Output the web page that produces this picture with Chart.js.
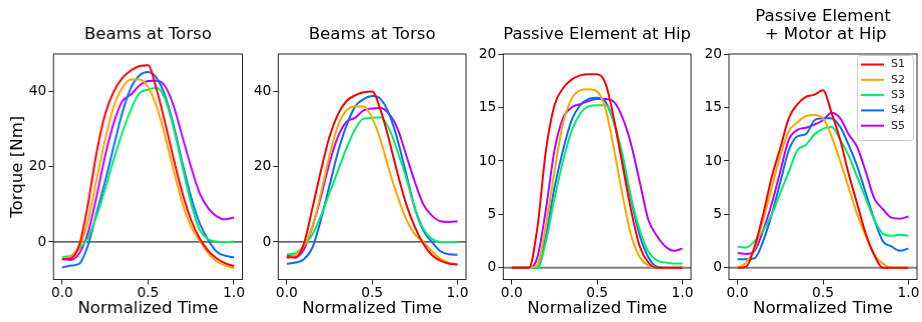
<!DOCTYPE html>
<html>
<head>
<meta charset="utf-8">
<script src="https://cdn.jsdelivr.net/npm/chart.js@4.4.1/dist/chart.umd.min.js"></script>
<style>
  html, body { margin: 0; padding: 0; background: #fff; }
  #wrap { position: relative; width: 922px; height: 322px; overflow: hidden; }
  .panel { position: absolute; top: 0; }
</style>
</head>
<body>
<div id="wrap">
  <div class="panel" style="left:0px;width:247.5px;height:322px"><canvas id="c1"></canvas></div>
  <div class="panel" style="left:228px;width:244px;height:322px"><canvas id="c2"></canvas></div>
  <div class="panel" style="left:453px;width:244px;height:322px"><canvas id="c3"></canvas></div>
  <div class="panel" style="left:679px;width:244px;height:322px"><canvas id="c4"></canvas></div>
</div>
<script>
// normalized time (x values shared by all curves)
const time = [0, 0.05, 0.1, 0.15, 0.2, 0.25, 0.3, 0.35, 0.4, 0.45, 0.5,
              0.55, 0.6, 0.65, 0.7, 0.75, 0.8, 0.85, 0.9, 0.95, 1.0];

const subjects = ["S1", "S2", "S3", "S4", "S5"];
const colors = ["#ff0000", "#ffa500", "#00ee66", "#0a6cff", "#c000ff"];

const titles = [["Beams at Torso"], ["Beams at Torso"], ["Passive Element at Hip"], ["Passive Element", " + Motor at Hip"]];
const xTicks = [0, 0.5, 1.0];
const yTicksTorso = [0, 20, 40];
const yTicksHip = [0, 5, 10, 15, 20];

// panel 1 - beams at torso
const p1S1 = [-4.6, -4.4, -0.8, 9.9, 23.6, 33.9, 40, 43.6, 45.6, 46.8, 47, 40.5, 31.6, 21.9, 13, 5.9, 1, -2.3, -4.4, -5.7, -6.4];
const p1S2 = [-4.4, -3.9, -1.2, 5.4, 16.5, 27.2, 36, 41, 43.2, 43.2, 41.2, 36, 28, 18.8, 10.3, 4.1, 0.4, -3, -5.2, -6.3, -7];
const p1S3 = [-4, -3.7, -1.7, 1, 6.8, 13.9, 21.9, 29, 35.2, 39.6, 40.5, 41, 37.9, 29.9, 20, 10.3, 3.2, 0.7, 0.1, -0.1, 0.1];
const p1S4 = [-6.8, -6.3, -5.8, -1, 7.6, 16, 25.4, 34.3, 41, 44.3, 45.2, 43.6, 38.8, 30.8, 21, 12, 5, 0.5, -2.6, -3.7, -4.1];
const p1S5 = [-4.5, -4.8, -3, 2.3, 12, 22.8, 31.6, 37.4, 39.2, 41.6, 42.8, 42.9, 41.4, 36, 28, 20, 13, 9, 6.8, 6, 6.5];

// panel 2 - beams at torso
const p2S1 = [-4, -4.2, -0.5, 9, 19, 28, 34, 37.5, 39, 39.8, 40, 35, 27, 18, 10, 4, -0.5, -3.5, -5, -5.8, -6];
const p2S2 = [-4.3, -3.5, -1, 4, 13, 23, 31, 35, 36, 36, 33, 27, 19, 12, 6, 2, 0, -2.5, -4.5, -5.5, -6];
const p2S3 = [-3.3, -3, -1, 2, 7, 13, 19, 25, 30, 32.8, 33, 33.2, 30, 24, 17, 9, 3.5, 0.8, 0, 0, 0];
const p2S4 = [-5.8, -5.5, -4.6, -1.5, 6, 15, 24, 31, 36, 38, 38.8, 38, 34, 27, 18, 9, 3, 0, -2.5, -3.3, -3.4];
const p2S5 = [-3.6, -4, -2, 4, 12, 21, 28, 32, 33, 35, 35.5, 35.6, 34, 30, 23, 16, 10, 7, 5.5, 5.3, 5.5];

// panel 3 - passive element at hip
const p3S1 = [0, 0, 0, 3.8, 11, 15.2, 16.8, 17.6, 18, 18.1, 18.1, 17.2, 13.8, 9.5, 5.3, 2, 0.5, 0, 0, 0, 0];
const p3S2 = [0, 0, 0, 0.3, 4, 9, 13.5, 15.8, 16.6, 16.7, 16.5, 14.8, 11, 6.7, 3, 1, 0.2, 0, 0, 0, 0];
const p3S3 = [0, 0, 0, 0, 2.5, 6.5, 10, 12.8, 14.4, 15.1, 15.2, 15.2, 13.5, 10.5, 6.5, 3.5, 1.5, 0.7, 0.5, 0.4, 0.4];
const p3S4 = [0, 0, 0, 0, 3, 7.5, 11, 13.8, 15.2, 15.8, 15.9, 15.5, 13.5, 10, 6.3, 3, 1, 0.1, 0, 0, 0];
const p3S5 = [0, 0, 0, 1, 5.5, 11, 14, 15, 15.3, 15.6, 15.8, 15.8, 15.5, 14, 11.5, 8, 4.5, 3, 2, 1.6, 1.8];

// panel 4 - passive element + motor at hip
const p4S1 = [0, 0.1, 2, 5, 8.5, 11.2, 14, 15.3, 16, 16.2, 16.6, 14.5, 12, 8.8, 6, 3.2, 1.2, 0, 0, 0, 0];
const p4S2 = [0, 0.5, 1.8, 4.5, 7.5, 10.5, 12.8, 13.6, 14.2, 14.3, 14, 12.3, 10, 7.5, 5, 3, 1.2, 0.4, 0, 0, 0];
const p4S3 = [2, 1.9, 2.5, 3.5, 5, 7, 9, 11, 11.5, 12.5, 13, 13.2, 12, 10.5, 8.5, 6.5, 4.5, 3.2, 3, 3.1, 3];
const p4S4 = [0.8, 0.8, 0.9, 2.5, 5, 8, 11, 12.3, 12.5, 13.8, 14, 14, 13.2, 11.5, 9.5, 7, 4.5, 2.5, 2, 1.6, 1.8];
const p4S5 = [1.4, 1.3, 1.6, 3.5, 6, 9, 12, 12.9, 13.1, 13.4, 13.8, 14.5, 14, 12.5, 11.3, 9, 6.5, 5.5, 4.7, 4.6, 4.8];

const panels = [
  { id: "c1", series: [p1S1, p1S2, p1S3, p1S4, p1S5], ymin: -10, ymax: 50, yTicks: yTicksTorso, axisW: 53.3, zero: "#333", zeroW: 1.2, ylabel: true },
  { id: "c2", series: [p2S1, p2S2, p2S3, p2S4, p2S5], ymin: -10, ymax: 50, yTicks: yTicksTorso, axisW: 50.3, zero: "#333", zeroW: 1.2 },
  { id: "c3", series: [p3S1, p3S2, p3S3, p3S4, p3S5], ymin: -1.09, ymax: 20, yTicks: yTicksHip, axisW: 50.3, zero: "#7f7f7f", zeroW: 2 },
  { id: "c4", series: [p4S1, p4S2, p4S3, p4S4, p4S5], ymin: -1.09, ymax: 20, yTicks: yTicksHip, axisW: 50, zero: "#7f7f7f", zeroW: 2, legend: true }
];

const font = "'DejaVu Sans', sans-serif";

// box round the plot area and horizontal line at zero
const framePlugin = {
  id: "frame",
  beforeDatasetsDraw(chart) {
    const a = chart.chartArea, ctx = chart.ctx;
    const y0 = chart.scales.y.getPixelForValue(0);
    ctx.save();
    ctx.strokeStyle = chart.options.plugins.frame.zero;
    ctx.lineWidth = chart.options.plugins.frame.zeroW;
    ctx.beginPath();
    ctx.moveTo(a.left, y0);
    ctx.lineTo(a.right, y0);
    ctx.stroke();
    ctx.restore();
  },
  afterDraw(chart) {
    const a = chart.chartArea, ctx = chart.ctx;
    ctx.save();
    ctx.strokeStyle = "#262626";
    ctx.lineWidth = 1;
    ctx.strokeRect(a.left, a.top, a.right - a.left, a.bottom - a.top);
    ctx.restore();
  }
};

// legend box drawn inside the last panel (upper right)
const boxLegend = {
  id: "boxLegend",
  afterDraw(chart) {
    if (!chart.options.plugins.boxLegend.show) return;
    const a = chart.chartArea, ctx = chart.ctx;
    const w = 56, h = 85;
    const x = a.right - 4 - w, y = a.top + 1;
    ctx.save();
    ctx.fillStyle = "rgba(255,255,255,0.8)";
    ctx.strokeStyle = "#cccccc";
    ctx.lineWidth = 1;
    ctx.beginPath();
    ctx.roundRect(x + 0.5, y + 0.5, w, h, 3);
    ctx.fill();
    ctx.stroke();
    ctx.font = "11px " + font;
    ctx.textBaseline = "middle";
    chart.data.datasets.forEach((ds, i) => {
      const ly = y + 9.5 + i * 15.3;
      ctx.strokeStyle = ds.borderColor;
      ctx.lineWidth = 2;
      ctx.beginPath();
      ctx.moveTo(x + 4, ly);
      ctx.lineTo(x + 27, ly);
      ctx.stroke();
      ctx.fillStyle = "#222";
      ctx.fillText(ds.label, x + 34, ly);
    });
    ctx.restore();
  }
};

panels.forEach((p, k) => {
  const nLines = titles[k].length;
  const lh = 18.3;
  const titleTop = nLines === 1 ? 25.85 : 7.55;
  new Chart(document.getElementById(p.id), {
    type: "line",
    data: {
      datasets: p.series.map((vals, i) => ({
        label: subjects[i],
        data: time.map((t, j) => ({ x: t, y: vals[j] })),
        borderColor: colors[i],
        backgroundColor: colors[i],
        borderWidth: 2,
        pointRadius: 0,
        cubicInterpolationMode: "monotone",
        fill: false
      }))
    },
    options: {
      responsive: true,
      maintainAspectRatio: false,
      animation: false,
      layout: { padding: { left: 0, right: 6, top: 0, bottom: 0 } },
      plugins: {
        legend: { display: false },
        tooltip: { enabled: false },
        frame: { zero: p.zero, zeroW: p.zeroW },
        boxLegend: { show: !!p.legend },
        title: {
          display: true,
          text: titles[k],
          fullSize: false,
          color: "#000",
          font: { family: font, size: 16.6, weight: "normal", lineHeight: lh / 16.6 },
          padding: { top: titleTop, bottom: 54 - titleTop - nLines * lh }
        }
      },
      scales: {
        x: {
          type: "linear",
          min: -0.05,
          max: 1.05,
          afterFit: s => { s.height = 42.5; },
          afterBuildTicks: s => { s.ticks = xTicks.map(v => ({ value: v })); },
          border: { display: false },
          grid: { drawOnChartArea: false, drawTicks: true, tickLength: 5, tickColor: "#262626", tickWidth: 1 },
          ticks: {
            color: "#000",
            padding: 1,
            maxRotation: 0,
            font: { family: font, size: 13.8 },
            callback: v => v.toFixed(1)
          },
          title: {
            display: true,
            text: "Normalized Time",
            color: "#000",
            font: { family: font, size: 16.6 },
            padding: { top: 0, bottom: 3 }
          }
        },
        y: {
          min: p.ymin,
          max: p.ymax,
          afterFit: s => { s.width = p.axisW; },
          afterBuildTicks: s => { s.ticks = p.yTicks.map(v => ({ value: v })); },
          border: { display: false },
          grid: { drawOnChartArea: false, drawTicks: true, tickLength: 5, tickColor: "#262626", tickWidth: 1 },
          ticks: {
            color: "#000",
            padding: 2,
            font: { family: font, size: 13.8 },
            callback: v => String(v)
          },
          title: {
            display: !!p.ylabel,
            text: "Torque [Nm]",
            color: "#000",
            font: { family: font, size: 16.6 },
            padding: { top: 8, bottom: 0 }
          }
        }
      }
    },
    plugins: [framePlugin, boxLegend]
  });
});
</script>
</body>
</html>
